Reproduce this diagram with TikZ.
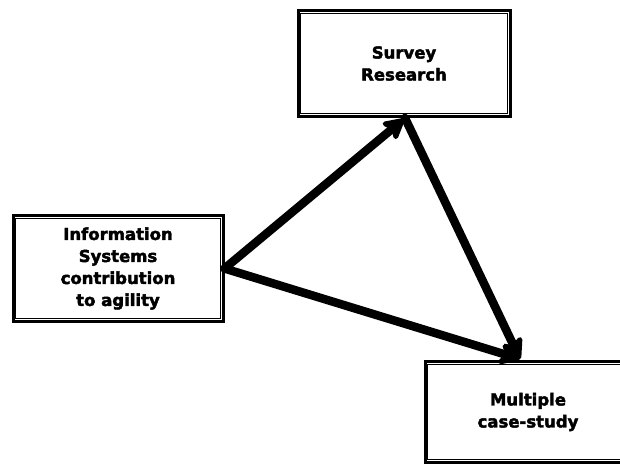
\documentclass[tikz,border=0pt]{standalone}
\usepackage{fontspec}
\setmainfont{DejaVu Sans}
\newfontfamily\heavyfont[FakeBold=2.5]{DejaVu Sans Bold}
\usetikzlibrary{arrows.meta}
\begin{document}
\begin{tikzpicture}[x=1pt,y=1pt,
  box/.style={draw=black, line width=3pt, fill=white, align=center,
    font=\heavyfont\fontsize{16.5}{22}\selectfont, inner sep=0pt},
  flow/.style={line width=8.5pt, line join=round, line cap=round,
    -{Stealth[length=25pt,width=27pt,inset=6pt,round]}}]
  \useasboundingbox (0,0) rectangle (620,464);
  \begin{scope}
    \clip (0,0) rectangle (620,464);
    % three method boxes, each with a thin inner frame
    \node[box, minimum width=212pt, minimum height=106pt] (survey) at (404,400.5)
      {Survey\\Research};
    \node[box, minimum width=210pt, minimum height=106pt] (info) at (118,195.5)
      {Information\\Systems\\contribution\\to agility};
    \node[box, minimum width=206pt, minimum height=101pt] (mult) at (528,52)
      {Multiple\\case-study};
    \foreach \n in {survey,info,mult}
      \draw[line width=1pt] ([shift={(4.3pt,-4.3pt)}]\n.north west)
        rectangle ([shift={(-4.3pt,4.3pt)}]\n.south east);
    % connectors
    \draw[flow] (info.east) -- ([yshift=-1pt]survey.south);
    \draw[flow] ([xshift=1pt]survey.south) -- ([xshift=-8pt,yshift=1pt]mult.north);
    \draw[flow] (info.east) -- ([xshift=-8pt,yshift=1pt]mult.north);
  \end{scope}
\end{tikzpicture}
\end{document}
